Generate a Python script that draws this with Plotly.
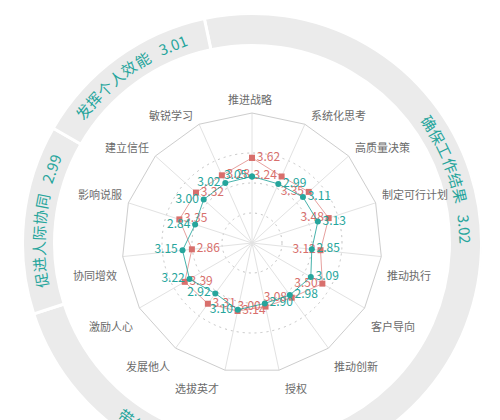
import math
import plotly.graph_objects as go

# ---------------- data ----------------
categories = ['推进战略', '系统化思考', '高质量决策', '制定可行计划', '推动执行', '客户导向', '推动创新',
              '授权', '选拔英才', '发展他人', '激励人心', '协同增效', '影响说服', '建立信任', '敏锐学习']
series_red = [3.62, 3.24, 3.35, 3.48, 3.12, 3.50, 3.08, 3.00, 3.14, 3.31, 3.39, 2.86, 3.35, 3.32, 3.28]
series_teal = [3.05, 2.99, 3.11, 3.13, 2.85, 3.09, 2.98, 2.90, 3.10, 2.92, 3.22, 3.15, 2.84, 3.00, 3.02]
group_names = ['确保工作结果', '带领团队', '促进人际协同', '发挥个人效能']
group_sizes = [7, 4, 2, 2]
group_scores = ['3.02', '3.03', '2.99', '3.01']
radial_min, radial_max = 1, 5

# ---------------- geometry / style ----------------
W, H = 500, 480                    # figure taller than the window; lower part is cut off
CX, CY, R = 244, 235, 130          # radar centre and radius (px, figure coords)
RO = 230                           # outer polar (ring) radius, px units
RING_IN, RING_OUT = 197.5, 229.5
RING_TEXT_R = 214
RED, RED_LINE = '#d86f6c', 'rgba(216,111,108,0.65)'
TEAL, TEAL_LINE = '#26a59c', 'rgba(38,165,156,0.85)'
RING_COLOR = '#ebebeb'
CJK = 'Noto Sans CJK SC'

n = len(categories)
step_deg = 360 / n


def dom(radius):
    return (dict(x=[(CX - radius) / W, (CX + radius) / W],
                 y=[1 - (CY + radius) / H, 1 - (CY - radius) / H]))


fig = go.Figure()

# ring segments
centers, widths = [], []
start = -0.5
for size in group_sizes:
    centers.append((start + size / 2) * step_deg)
    widths.append(size * step_deg)
    start += size
fig.add_trace(go.Barpolar(
    theta=centers, width=widths, base=[RING_IN] * len(centers),
    r=[RING_OUT - RING_IN] * len(centers),
    marker=dict(color=RING_COLOR, line=dict(color='white', width=3)),
    hoverinfo='skip', subplot='polar'))


# radar series
def side_positions(inward):
    pos = []
    for i in range(n):
        right_half = 0 < i < n / 2
        if i == 0:
            p = 'middle right' if inward else 'middle left'
        elif right_half:
            p = 'middle left' if inward else 'middle right'
        else:
            p = 'middle right' if inward else 'middle left'
        pos.append(p)
    return pos


for vals, col, lcol, sym, inward in [(series_red, RED, RED_LINE, 'square', True),
                                      (series_teal, TEAL, TEAL_LINE, 'circle', False)]:
    fig.add_trace(go.Scatterpolar(
        r=vals + vals[:1], theta=categories + categories[:1],
        mode='lines+markers+text',
        text=[f'{v:.2f}' for v in vals] + [''],
        textposition=side_positions(inward) + ['middle right'],
        textfont=dict(color=col, size=12, family=CJK),
        line=dict(color=lcol, width=1),
        marker=dict(color=col, symbol=sym, size=6),
        cliponaxis=False, hoverinfo='skip', subplot='polar2'))

annotations = []
# category labels
for i, name in enumerate(categories):
    th = math.radians(i * step_deg)
    s, c = math.sin(th), math.cos(th)
    vx, vy = CX + R * s, CY - R * c
    if abs(s) < 1e-6:
        xa, xs = 'center', -2
    elif s > 0:
        xa, xs = 'left', 4
    else:
        xa, xs = 'right', -4
    if i == 0:
        ya, ys = 'bottom', 4
    elif c > 0:
        ya, ys = 'bottom', -1
    else:
        ya, ys = 'top', -8
    annotations.append(dict(x=vx / W, y=1 - vy / H, xref='paper', yref='paper', text=name,
                            showarrow=False, xanchor=xa, yanchor=ya, xshift=xs, yshift=ys,
                            font=dict(size=11, color='#6b6b6b', family=CJK)))

# ring texts along the arc
CH_STEP, SCORE_GAP, SCORE_HALF = 15.9, 34, 15
for gname, score, cdeg in zip(group_names, group_scores, centers):
    clockwise = not (90 < (cdeg % 360) < 270)
    pos = [k * CH_STEP for k in range(len(gname))] + [(len(gname) - 1) * CH_STEP + SCORE_GAP]
    mid = (-CH_STEP / 2 + pos[-1] + SCORE_HALF) / 2
    for k, ch in enumerate(list(gname) + [score]):
        d = math.degrees((pos[k] - mid) / RING_TEXT_R)
        th = cdeg + d if clockwise else cdeg - d
        rot = th if clockwise else th - 180
        rot = (rot + 180) % 360 - 180
        x = CX + RING_TEXT_R * math.sin(math.radians(th))
        y = CY - RING_TEXT_R * math.cos(math.radians(th))
        annotations.append(dict(x=x / W, y=1 - y / H, xref='paper', yref='paper', text=ch,
                                showarrow=False, xanchor='center', yanchor='middle', textangle=rot,
                                font=dict(size=15, color=TEAL, family=CJK)))

fig.update_layout(
    width=W, height=H, margin=dict(l=0, r=0, t=0, b=0),
    paper_bgcolor='white', plot_bgcolor='white', showlegend=False,
    polar=dict(
        domain=dom(RO), bgcolor='rgba(0,0,0,0)',
        radialaxis=dict(range=[0, RO], tickvals=[30, 60, 90], showticklabels=False, ticks='',
                        showline=False, gridcolor='#c4c4c4', griddash='2px,4px', gridwidth=1),
        angularaxis=dict(type='linear', rotation=90, direction='clockwise', showgrid=False,
                         showline=False, showticklabels=False, ticks='')),
    polar2=dict(
        domain=dom(R), bgcolor='rgba(0,0,0,0)', gridshape='linear',
        radialaxis=dict(range=[radial_min, radial_max], showgrid=False, showline=False,
                        showticklabels=False, ticks=''),
        angularaxis=dict(type='category', categoryarray=categories, rotation=90,
                         direction='clockwise', showgrid=True, gridcolor='#e2e2e2',
                         showline=True, linecolor='#cdcdcd', linewidth=1,
                         showticklabels=False, ticks='')),
    annotations=annotations,
)

fig.write_html('out.html')
